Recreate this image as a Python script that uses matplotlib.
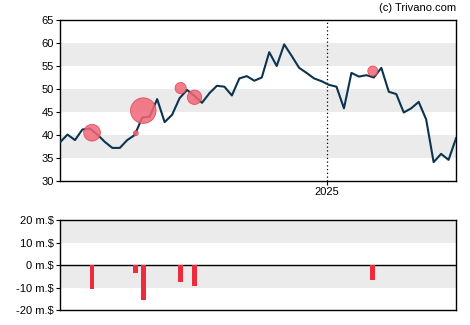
import matplotlib.pyplot as plt
import matplotlib.dates as mdates
import numpy as np
import pandas as pd

plt.rcParams['font.family'] = ['Liberation Sans', 'DejaVu Sans']

# weekly closing prices
start = '2024-04-26'
prices = [38.4, 40.1, 38.9, 41.2, 41.4, 40.1, 38.5, 37.2, 37.2, 38.9,
          40.0, 43.8, 44.0, 47.8, 42.8, 44.4, 48.0, 49.8, 48.5, 47.0,
          49.1, 50.7, 50.5, 48.6, 52.3, 52.8, 51.8, 52.5, 58.0, 55.0,
          59.7, 57.2, 54.6, 53.5, 52.3, 51.7, 50.9, 50.5, 45.8, 53.5,
          52.7, 53.0, 52.5, 54.6, 49.4, 48.9, 44.9, 45.8, 47.2, 43.4,
          34.1, 35.9, 34.6, 39.3]
dates = pd.date_range(start, periods=len(prices), freq='7D')

# insider sales: date, price, volume (million $)
trade_dates = pd.to_datetime(['2024-05-26', '2024-07-06', '2024-07-13',
                              '2024-08-17', '2024-08-30', '2025-02-13'])
trade_prices = [40.5, 40.4, 45.3, 50.2, 48.2, 53.9]
trade_volume = [-10.7, -3.4, -15.6, -7.4, -9.3, -6.7]

line_col = '#0c3350'
red = '#ee2b3d'
band = '#ebebeb'

fig = plt.figure(figsize=(4.7, 3.25), dpi=100)
ax = fig.add_axes([0.1277, 0.443, 0.8426, 0.4955])
ax2 = fig.add_axes([0.1277, 0.046, 0.8426, 0.277])

# price panel
for lo in (35, 45, 55):
    ax.axhspan(lo, lo + 5, color=band, lw=0, zorder=0)
ax.plot(dates, prices, color=line_col, lw=1.5, zorder=3)
sizes = [(1.0 * abs(v)) ** 2 * (1 + abs(v) / 40) for v in trade_volume]
ax.scatter(trade_dates, trade_prices, s=sizes, color='#f06878', alpha=0.85,
           edgecolors='#e83a4a', linewidths=0.6, zorder=4)
x2025 = pd.Timestamp('2025-01-01')
ax.axvline(x2025, color='black', lw=0.9, ls=(0, (1, 2)), zorder=2)
ax.set_ylim(30, 65)
ax.set_yticks(range(30, 66, 5))
ax.set_xlim(dates[0], dates[-1])
ax.set_xticks([x2025])
ax.xaxis.set_major_formatter(mdates.DateFormatter('%Y'))

# volume panel
ax2.axhspan(10, 20, color=band, lw=0, zorder=0)
ax2.axhspan(-10, 0, color=band, lw=0, zorder=0)
ax2.axhline(0, color='black', lw=1.0, zorder=2)
ax2.bar(trade_dates, trade_volume, width=4.5, color=red, zorder=3)
ax2.set_ylim(-20, 20)
ax2.set_yticks([20, 10, 0, -10, -20])
ax2.set_yticklabels(['20 m.$', '10 m.$', '0 m.$', '-10 m.$', '-20 m.$'])
ax2.set_xlim(dates[0], dates[-1])
ax2.set_xticks([])

for a in (ax, ax2):
    for s in a.spines.values():
        s.set_linewidth(1.0)
    a.tick_params(labelsize=8, length=3, width=0.8, pad=1.5)

fig.text(0.97, 0.975, '(c) Trivano.com', ha='right', va='center', fontsize=8)

fig.savefig('out.png', dpi=100)
